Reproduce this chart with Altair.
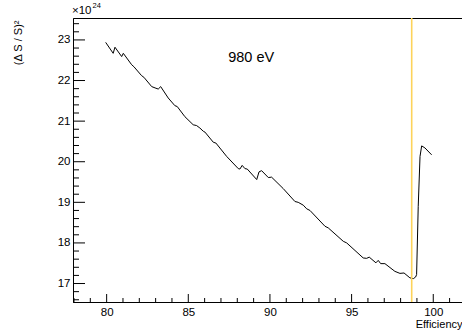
import altair as alt
import pandas as pd

# Curve values
efficiency = [79.94, 80.40, 80.51, 80.92, 81.02, 81.53, 81.67, 82.14, 82.28, 82.76,
              83.02, 83.16, 83.31, 83.77, 84.18, 84.32, 84.79, 85.30, 85.51, 85.71,
              85.92, 86.02, 86.53, 86.69, 87.35, 88.06, 88.16, 88.30, 88.47, 88.61,
              89.19, 89.33, 89.49, 89.90, 90.10, 90.81, 91.53, 91.73, 92.04, 92.25,
              92.45, 93.37, 93.57, 94.49, 94.70, 95.71, 95.92, 96.08, 96.49, 96.63,
              96.78, 97.04, 97.65, 97.96, 98.21, 98.57, 98.78, 98.92, 98.98, 99.08,
              99.19, 99.29, 99.49, 99.90]
ratio = [22.94, 22.67, 22.82, 22.59, 22.67, 22.39, 22.34, 22.12, 22.08, 21.85,
         21.81, 21.79, 21.85, 21.57, 21.38, 21.36, 21.11, 20.91, 20.89, 20.83,
         20.75, 20.73, 20.48, 20.46, 20.13, 19.83, 19.82, 19.91, 19.83, 19.82,
         19.56, 19.75, 19.78, 19.61, 19.62, 19.34, 19.02, 19.00, 18.93, 18.84,
         18.80, 18.41, 18.37, 18.04, 18.00, 17.63, 17.62, 17.65, 17.51, 17.57,
         17.49, 17.49, 17.30, 17.25, 17.26, 17.14, 17.12, 17.16, 17.22, 18.90,
         20.13, 20.39, 20.34, 20.17]

cut_efficiency = [98.68]

x_major = [80, 85, 90, 95, 100]
x_minor = [78, 79, 81, 82, 83, 84, 86, 87, 88, 89, 91, 92, 93, 94, 96, 97, 98, 99, 101]
y_major = [17, 18, 19, 20, 21, 22, 23]
y_minor = [16.6, 16.8, 17.2, 17.4, 17.6, 17.8, 18.2, 18.4, 18.6, 18.8,
           19.2, 19.4, 19.6, 19.8, 20.2, 20.4, 20.6, 20.8, 21.2, 21.4,
           21.6, 21.8, 22.2, 22.4, 22.6, 22.8, 23.2, 23.4]

label_text = ["980 eV"]
label_x = [88.85]
label_y = [22.55]

FONT = "Liberation Sans"
W, H = 389, 284
XDOM = [77.94, 101.76]
YDOM = [16.545, 23.54]

xs = alt.Scale(domain=XDOM, nice=False, zero=False)
ys = alt.Scale(domain=YDOM, nice=False, zero=False)

x_axis = alt.Axis(
    values=x_major, ticks=False, grid=False, domain=True, domainColor="black",
    labelFont=FONT, labelFontSize=11.5, labelColor="black", labelPadding=4,
    title="Efficiency", titleFont=FONT, titleFontSize=11, titleFontWeight="normal",
    titleColor="black", titleAnchor="end", titleAlign="right", titleX=W, titleY=22,
    titleBaseline="middle")
y_axis = alt.Axis(
    values=y_major, ticks=False, grid=False, domain=True, domainColor="black",
    labelFont=FONT, labelFontSize=11.5, labelColor="black", labelPadding=3,
    title="(Δ S / S)²", titleFont=FONT, titleFontSize=11, titleFontWeight="normal",
    titleColor="black", titleAngle=270, titleAlign="right", titleBaseline="middle",
    titleX=-55, titleY=2)

df = pd.DataFrame({"eff": efficiency, "r": ratio})

line = alt.Chart(df).mark_line(color="black", strokeWidth=1).encode(
    x=alt.X("eff:Q", scale=xs, axis=x_axis),
    y=alt.Y("r:Q", scale=ys, axis=y_axis),
    order=alt.Order("eff:Q"),
)

cut = alt.Chart(pd.DataFrame({"eff": cut_efficiency})).mark_rule(
    color="#fdd35a", strokeWidth=1.6).encode(
    x=alt.X("eff:Q", scale=xs, axis=x_axis))

ymaj = alt.Chart(pd.DataFrame({"r": y_major})).mark_rule(color="black", strokeWidth=1).encode(
    y=alt.Y("r:Q", scale=ys, axis=y_axis), x=alt.value(0), x2=alt.value(12))
ymin = alt.Chart(pd.DataFrame({"r": y_minor})).mark_rule(color="black", strokeWidth=1).encode(
    y=alt.Y("r:Q", scale=ys, axis=y_axis), x=alt.value(0), x2=alt.value(6))
xmaj = alt.Chart(pd.DataFrame({"eff": x_major})).mark_rule(color="black", strokeWidth=1).encode(
    x=alt.X("eff:Q", scale=xs, axis=x_axis), y=alt.value(H), y2=alt.value(H - 8))
xmin = alt.Chart(pd.DataFrame({"eff": x_minor})).mark_rule(color="black", strokeWidth=1).encode(
    x=alt.X("eff:Q", scale=xs, axis=x_axis), y=alt.value(H), y2=alt.value(H - 4))

label = alt.Chart(pd.DataFrame({"t": label_text, "eff": label_x, "r": label_y})).mark_text(
    font=FONT, fontSize=14.5, color="black", align="center", baseline="middle").encode(
    x=alt.X("eff:Q", scale=xs, axis=x_axis), y=alt.Y("r:Q", scale=ys, axis=y_axis), text="t:N")

exp_base = alt.Chart(pd.DataFrame({"t": ["×10"]})).mark_text(
    font=FONT, fontSize=11.5, color="black", align="left", baseline="middle").encode(
    x=alt.value(-1), y=alt.value(-7), text="t:N")
exp_pow = alt.Chart(pd.DataFrame({"t": ["24"]})).mark_text(
    font=FONT, fontSize=7.5, color="black", align="left", baseline="middle").encode(
    x=alt.value(19.5), y=alt.value(-12.5), text="t:N")

chart = alt.layer(line, cut, ymaj, ymin, xmaj, xmin, label, exp_base, exp_pow).properties(
    width=W, height=H,
    autosize=alt.AutoSizeParams(type="none"),
    padding={"left": 73, "top": 18, "right": 0, "bottom": 31},
    background="white",
).configure_view(stroke="black", strokeWidth=1)

chart.save("out.html", embed_options={"renderer": "svg", "actions": False})
